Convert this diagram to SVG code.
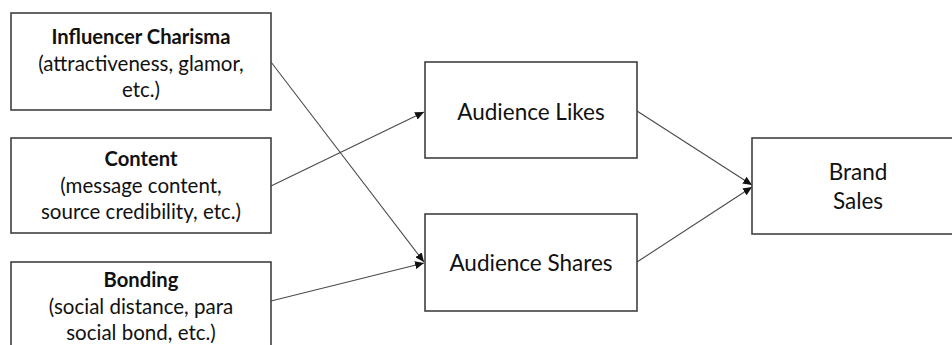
<svg xmlns="http://www.w3.org/2000/svg" width="952" height="345" viewBox="0 0 952 345">
<defs>
<style>
.box{fill:#fff;stroke:#404040;stroke-width:1.6}
.t{font-family:Lato,"Open Sans","Liberation Sans",sans-serif;fill:#111;text-anchor:middle;font-size:20.5px}
.b{font-weight:bold;font-size:20.2px}
.big{font-size:22.5px}
.c{stroke:#4a4a4a;stroke-width:1.1;fill:none;marker-end:url(#ah)}
</style>
<marker id="ah" markerUnits="userSpaceOnUse" markerWidth="10" markerHeight="8" refX="9" refY="4" orient="auto">
<path d="M0,0 L9,4 L0,8 Z" fill="#111"/>
</marker>
</defs>
<rect width="952" height="345" fill="#fff"/>
<g id="connectors">
<line class="c" x1="271" y1="62" x2="424" y2="262"/>
<line class="c" x1="271" y1="186" x2="424" y2="112"/>
<line class="c" x1="271" y1="301" x2="424" y2="263"/>
<line class="c" x1="637" y1="111" x2="752" y2="185"/>
<line class="c" x1="637" y1="262" x2="752" y2="187"/>
</g>
<g id="charisma">
<rect class="box" x="11" y="13" width="260" height="97"/>
<text class="t b" x="141" y="44">Influencer Charisma</text>
<text class="t" x="141" y="71">(attractiveness, glamor,</text>
<text class="t" x="141" y="97">etc.)</text>
</g>
<g id="content">
<rect class="box" x="11" y="138" width="260" height="95"/>
<text class="t b" x="141" y="166">Content</text>
<text class="t" x="141" y="193">(message content,</text>
<text class="t" x="141" y="219">source credibility, etc.)</text>
</g>
<g id="bonding">
<rect class="box" x="11" y="262" width="260" height="100"/>
<text class="t b" x="141" y="287">Bonding</text>
<text class="t" x="141" y="314">(social distance, para</text>
<text class="t" x="141" y="340">social bond, etc.)</text>
</g>
<g id="likes">
<rect class="box" x="425" y="62" width="212" height="96"/>
<text class="t big" x="531" y="120">Audience Likes</text>
</g>
<g id="shares">
<rect class="box" x="425" y="214" width="212" height="97"/>
<text class="t big" x="531" y="271">Audience Shares</text>
</g>
<g id="brand">
<rect class="box" x="752" y="138" width="214" height="96"/>
<text class="t big" x="858" y="180">Brand</text>
<text class="t big" x="858" y="209">Sales</text>
</g>
</svg>
